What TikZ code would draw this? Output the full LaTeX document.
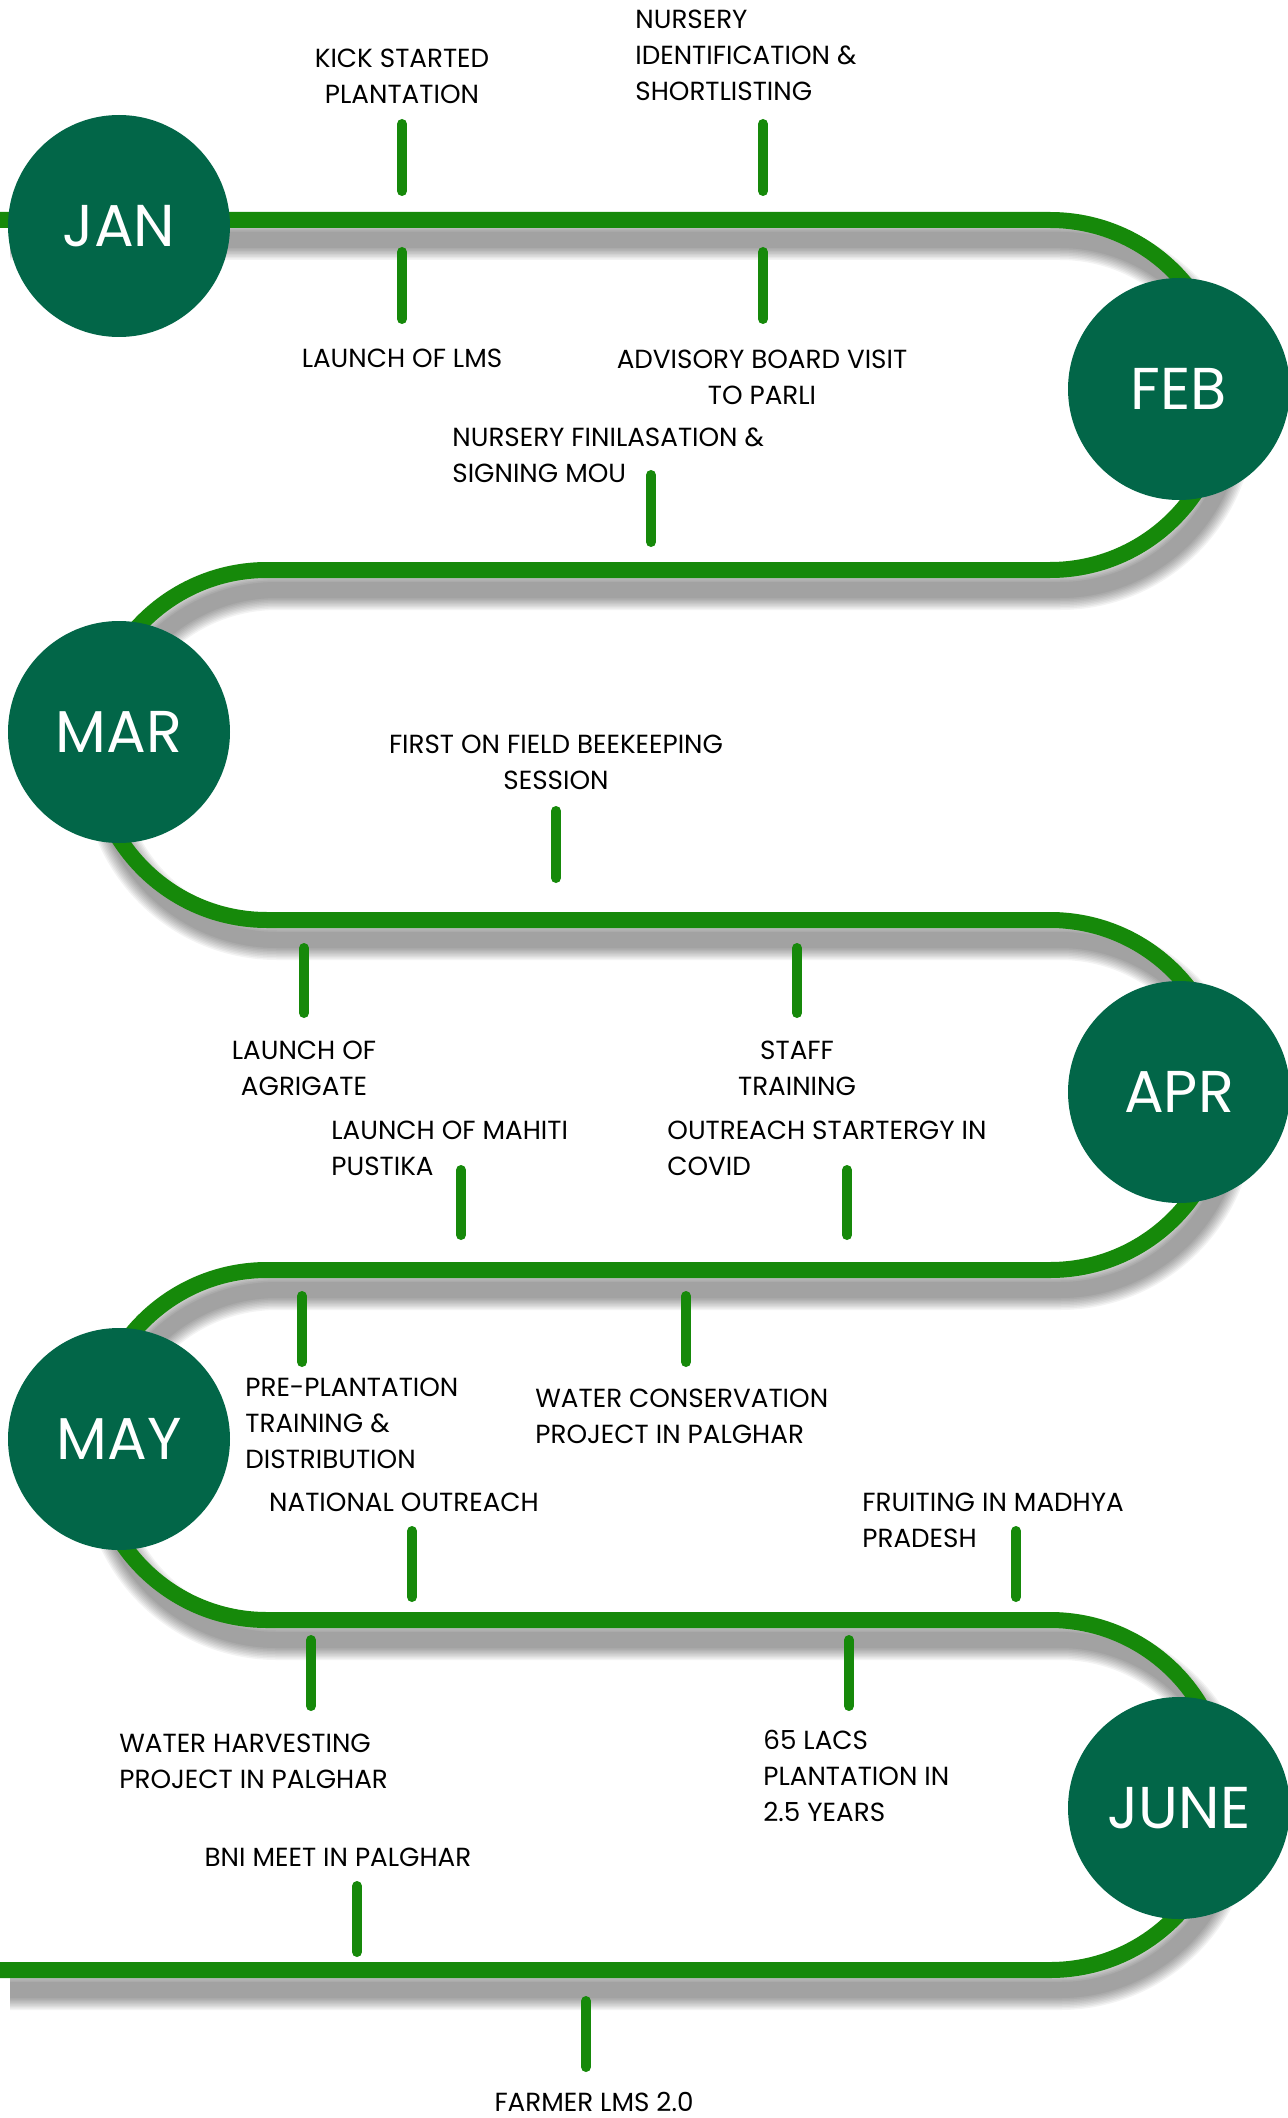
\documentclass[tikz,border=0pt]{standalone}
\usepackage{fontspec}
\setmainfont{Poppins}
\newfontfamily\monthfont{Poppins}
\definecolor{pathgreen}{RGB}{22,137,10}
\definecolor{circgreen}{RGB}{2,102,72}
\begin{document}
\begin{tikzpicture}[x=0.5pt,y=-0.5pt,
  month/.style={circle,fill=circgreen,minimum size=111pt,inner sep=0pt,text=white,font=\monthfont\fontsize{29.5}{31}\selectfont},
  tickline/.style={draw=pathgreen,line width=5pt,line cap=round},
  lblc/.style={font=\fontsize{13.1}{18}\selectfont,inner sep=0pt,align=center,anchor=north},
  lbll/.style={font=\fontsize{13.1}{18}\selectfont,inner sep=0pt,align=left,anchor=north west},
  track/.style={draw=pathgreen,line width=8pt}]
\useasboundingbox (0,0) rectangle (1287,2118);
\fill[white] (0,0) rectangle (1287,2118);
% the winding track
\path[save path=\trackpath] (0,220) -- (1050,220)
  arc[start angle=-90,end angle=90,radius=175] -- (267,570)
  arc[start angle=-90,end angle=-270,radius=175] -- (1050,920)
  arc[start angle=-90,end angle=90,radius=175] -- (267,1270)
  arc[start angle=-90,end angle=-270,radius=175] -- (1050,1620)
  arc[start angle=-90,end angle=90,radius=175] -- (0,1970);
% soft shadow
\begin{scope}[transform canvas={xshift=5pt,yshift=-10pt}]
  \foreach \w in {8,9.5,...,20}
    \draw[use path=\trackpath, line width=\w pt, black, opacity=0.048];
\end{scope}
\draw[track, use path=\trackpath];
% ticks
\foreach \n/\x/\ya/\yb in {ka/402/124/191, kb/763/124/191, ba/402/252/319, bb/763/252/319,
  kc/651/475/542, kd/556/811/878, bc/304/948/1013, bd/797/948/1013,
  ke/461/1170/1235, kf/847/1170/1235, be/302/1296/1362, bf/686/1296/1362,
  kg/412/1531/1597, kh/1016/1531/1597, bg/311/1640/1706, bh/849/1640/1706,
  ki/357/1886/1952, bi/586/2001/2067}{
  \coordinate (\n s) at (\x,\ya);
  \coordinate (\n e) at (\x,\yb);
  \draw[tickline] (\n s) -- (\n e);
}
% month circles
\node[month] (jan) at (119,226) {JAN};
\node[month] (feb) at (1179,389) {FEB};
\node[month] (mar) at (119,732) {MAR};
\node[month] (apr) at (1179,1092) {APR};
\node[month] (may) at (119,1439) {MAY};
\node[month] (jun) at (1179,1808) {JUNE};
% labels
\node[lblc] (l1) at (402,49) {KICK STARTED\\PLANTATION};
\node[lblc] (l2) at (402,349) {LAUNCH OF LMS};
\node[lbll] (l3) at (635,10) {NURSERY\\IDENTIFICATION \&\\SHORTLISTING};
\node[lblc] (l4) at (762,350) {ADVISORY BOARD VISIT\\TO PARLI};
\node[lbll] (l5) at (452,427) {NURSERY FINILASATION \&\\SIGNING MOU};
\node[lblc] (l6) at (556,735) {FIRST ON FIELD BEEKEEPING\\SESSION};
\node[lblc] (l7) at (304,1041) {LAUNCH OF\\AGRIGATE};
\node[lblc] (l8) at (797,1041) {STAFF\\TRAINING};
\node[lbll] (l9) at (331,1121) {LAUNCH OF MAHITI\\PUSTIKA};
\node[lbll] (l10) at (667,1121) {OUTREACH STARTERGY IN\\COVID};
\node[lbll] (l11) at (245,1378) {PRE-PLANTATION\\TRAINING \&\\DISTRIBUTION};
\node[lbll] (l12) at (535,1389) {WATER CONSERVATION\\PROJECT IN PALGHAR};
\node[lblc] (l13) at (404,1493) {NATIONAL OUTREACH};
\node[lbll] (l14) at (862,1493) {FRUITING IN MADHYA\\PRADESH};
\node[lbll] (l15) at (119,1734) {WATER HARVESTING\\PROJECT IN PALGHAR};
\node[lbll] (l16) at (763,1730) {65 LACS\\PLANTATION IN\\2.5 YEARS};
\node[lblc] (l17) at (338,1848) {BNI MEET IN PALGHAR};
\node[lblc] (l18) at (594,2092) {FARMER LMS 2.0};
\end{tikzpicture}
\end{document}
